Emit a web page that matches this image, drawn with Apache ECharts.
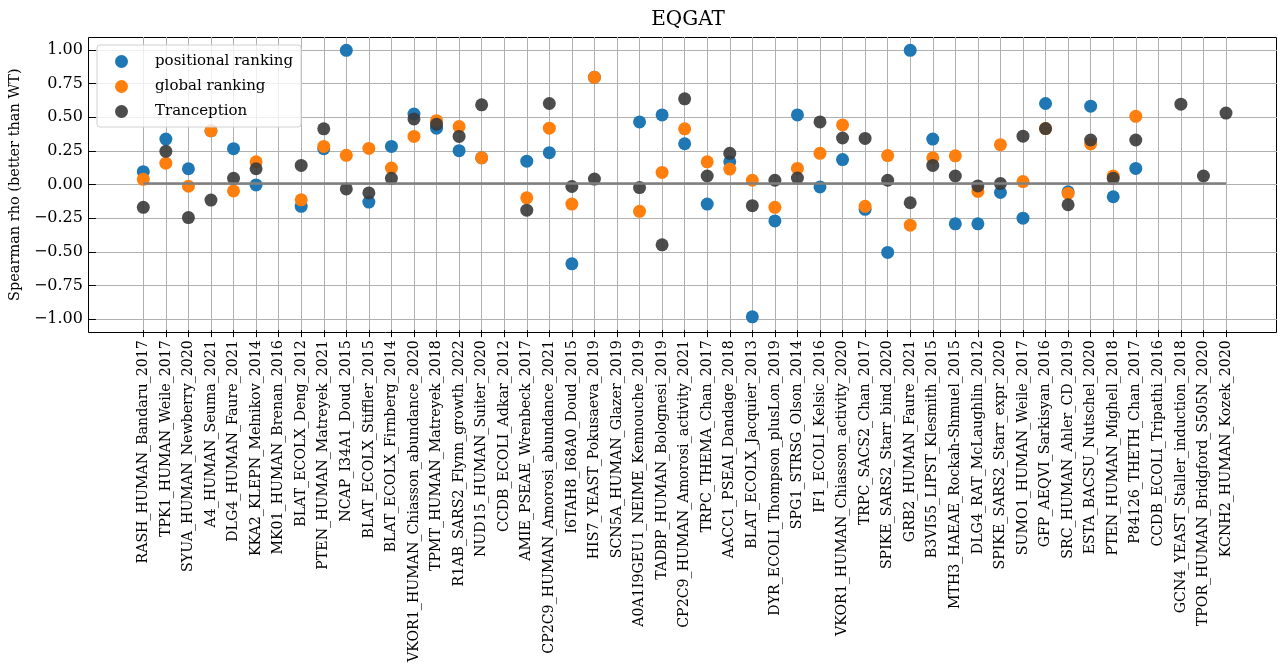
<!DOCTYPE html>
<html>
<head>
<meta charset="utf-8">
<script src="https://cdn.jsdelivr.net/npm/echarts@6/dist/echarts.min.js"></script>
<style>
  html, body { margin: 0; padding: 0; background: #fff; }
  #chart { width: 1278px; height: 665px; }
</style>
</head>
<body>
<div id="chart"></div>
<script>
var categories = [
  'RASH_HUMAN_Bandaru_2017', 'TPK1_HUMAN_Weile_2017', 'SYUA_HUMAN_Newberry_2020', 'A4_HUMAN_Seuma_2021',
  'DLG4_HUMAN_Faure_2021', 'KKA2_KLEPN_Melnikov_2014', 'MK01_HUMAN_Brenan_2016', 'BLAT_ECOLX_Deng_2012',
  'PTEN_HUMAN_Matreyek_2021', 'NCAP_I34A1_Doud_2015', 'BLAT_ECOLX_Stiffler_2015', 'BLAT_ECOLX_Firnberg_2014',
  'VKOR1_HUMAN_Chiasson_abundance_2020', 'TPMT_HUMAN_Matreyek_2018', 'R1AB_SARS2_Flynn_growth_2022',
  'NUD15_HUMAN_Suiter_2020', 'CCDB_ECOLI_Adkar_2012', 'AMIE_PSEAE_Wrenbeck_2017',
  'CP2C9_HUMAN_Amorosi_abundance_2021', 'I6TAH8_I68A0_Doud_2015', 'HIS7_YEAST_Pokusaeva_2019',
  'SCN5A_HUMAN_Glazer_2019', 'A0A1I9GEU1_NEIME_Kennouche_2019', 'TADBP_HUMAN_Bolognesi_2019',
  'CP2C9_HUMAN_Amorosi_activity_2021', 'TRPC_THEMA_Chan_2017', 'AACC1_PSEAI_Dandage_2018',
  'BLAT_ECOLX_Jacquier_2013', 'DYR_ECOLI_Thompson_plusLon_2019', 'SPG1_STRSG_Olson_2014',
  'IF1_ECOLI_Kelsic_2016', 'VKOR1_HUMAN_Chiasson_activity_2020', 'TRPC_SACS2_Chan_2017',
  'SPIKE_SARS2_Starr_bind_2020', 'GRB2_HUMAN_Faure_2021', 'B3VI55_LIPST_Klesmith_2015',
  'MTH3_HAEAE_Rockah-Shmuel_2015', 'DLG4_RAT_McLaughlin_2012', 'SPIKE_SARS2_Starr_expr_2020',
  'SUMO1_HUMAN_Weile_2017', 'GFP_AEQVI_Sarkisyan_2016', 'SRC_HUMAN_Ahler_CD_2019',
  'ESTA_BACSU_Nutschel_2020', 'PTEN_HUMAN_Mighell_2018', 'P84126_THETH_Chan_2017',
  'CCDB_ECOLI_Tripathi_2016', 'GCN4_YEAST_Staller_induction_2018', 'TPOR_HUMAN_Bridgford_S505N_2020',
  'KCNH2_HUMAN_Kozek_2020'
];

var positional = [
  0.089, 0.334, 0.111, 0.396, 0.262, -0.010, null, -0.171, 0.262, 1.000,
  -0.139, 0.279, 0.522, 0.416, 0.247, 0.193, null, 0.168, 0.232, -0.602,
  0.797, null, 0.463, 0.515, 0.299, -0.154, 0.163, -1.000, -0.280, 0.515,
  -0.025, 0.180, -0.193, -0.517, 1.000, 0.334, -0.302, -0.302, -0.067, -0.260,
  0.601, -0.062, 0.581, -0.099, 0.114, null, null, null, null
];

var globalRank = [
  0.032, 0.153, -0.020, 0.396, -0.055, 0.163, null, -0.122, 0.279, 0.212,
  0.264, 0.116, 0.354, 0.472, 0.428, 0.193, null, -0.107, 0.416, -0.154,
  0.797, null, -0.208, 0.084, 0.411, 0.163, 0.109, 0.025, -0.178, 0.114,
  0.227, 0.440, -0.171, 0.210, -0.312, 0.193, 0.208, -0.059, 0.292, 0.015,
  0.413, -0.074, 0.297, 0.057, 0.505, null, null, null, null
];

var tranception = [
  -0.178, 0.242, -0.255, -0.124, 0.039, 0.111, null, 0.136, 0.411, -0.040,
  -0.070, 0.039, 0.485, 0.445, 0.354, 0.591, null, -0.200, 0.601, -0.022,
  0.034, null, -0.030, -0.460, 0.636, 0.057, 0.227, -0.166, 0.025, 0.042,
  0.463, 0.342, 0.339, 0.025, -0.144, 0.136, 0.057, -0.018, 0.000, 0.356,
  0.413, -0.159, 0.327, 0.039, 0.327, null, 0.596, 0.057, 0.529
];

var font = 'DejaVu Serif';

function clean(arr) {
  return arr.map(function (v) { return v === null ? '-' : v; });
}

var chart = echarts.init(document.getElementById('chart'));

var option = {
  animation: false,
  backgroundColor: '#fff',
  textStyle: { fontFamily: font, color: '#000' },
  title: {
    text: 'EQGAT',
    left: 683, top: 5,
    textAlign: 'center',
    textStyle: { fontFamily: font, fontSize: 20, fontWeight: 'normal', color: '#000' }
  },
  legend: {
    orient: 'vertical',
    left: 97, top: 45,
    data: ['positional ranking', 'global ranking', 'Tranception'],
    icon: 'circle',
    itemWidth: 13, itemHeight: 13,
    itemGap: 10,
    padding: [9, 8, 8, 18],
    backgroundColor: 'rgba(255,255,255,0.8)',
    borderColor: '#d0d0d0', borderWidth: 1, borderRadius: 3,
    textStyle: { fontFamily: font, fontSize: 15, color: '#000', padding: [0, 0, 0, 22] }
  },
  grid: [
    // frame
    { left: 88.5, right: 1.5, top: 37.5, height: 295, show: true, borderColor: '#000', borderWidth: 1, backgroundColor: 'transparent' },
    // y ticks grid, -1..1
    { left: 88, right: 1, top: 50, height: 269.3 },
    // category grid
    { left: 143.3, width: 1082.7, top: 37, height: 295 }
  ],
  xAxis: [
    { gridIndex: 0, type: 'value', show: false },
    { gridIndex: 1, type: 'value', show: false },
    {
      gridIndex: 2, type: 'category', data: categories, boundaryGap: false,
      axisLine: { show: false, onZero: false },
      axisTick: { show: true, interval: 0, length: 7, lineStyle: { color: '#000' } },
      axisLabel: { interval: 0, rotate: 90, margin: 10, fontFamily: font, fontSize: 14.2, color: '#000' },
      splitLine: { show: true, interval: 0, lineStyle: { color: '#b0b0b0', width: 1 } }
    }
  ],
  yAxis: [
    { gridIndex: 0, type: 'value', show: false },
    {
      gridIndex: 1, type: 'value', min: -1, max: 1, interval: 0.25,
      name: 'Spearman rho (better than WT)', nameLocation: 'middle', nameGap: 65,
      nameTextStyle: { fontFamily: font, fontSize: 14.5, color: '#000' },
      axisLine: { show: false },
      axisTick: { show: true, length: 7, lineStyle: { color: '#000' } },
      axisLabel: {
        fontFamily: font, fontSize: 16, color: '#000', margin: 13,
        formatter: function (v) { return v.toFixed(2).replace('-', '\u2212'); }
      },
      splitLine: { show: true, lineStyle: { color: '#b0b0b0', width: 1 } }
    },
    { gridIndex: 2, type: 'value', min: -1.1, max: 1.1, show: false }
  ],
  series: [
    {
      name: 'zero', type: 'scatter', xAxisIndex: 2, yAxisIndex: 2, data: [], silent: true,
      markLine: {
        silent: true, symbol: 'none', label: { show: false },
        lineStyle: { color: '#808080', width: 2.5, type: 'solid' },
        emphasis: { disabled: true },
        data: [{ yAxis: 0 }]
      }
    },
    {
      name: 'positional ranking', type: 'scatter', xAxisIndex: 2, yAxisIndex: 2,
      symbolSize: 13, itemStyle: { color: '#1f77b4', opacity: 1 }, data: clean(positional)
    },
    {
      name: 'global ranking', type: 'scatter', xAxisIndex: 2, yAxisIndex: 2,
      symbolSize: 13, itemStyle: { color: '#ff7f0e', opacity: 1 }, data: clean(globalRank)
    },
    {
      name: 'Tranception', type: 'scatter', xAxisIndex: 2, yAxisIndex: 2,
      symbolSize: 13, itemStyle: { color: '#3a3a3a', opacity: 0.9 }, data: clean(tranception)
    }
  ]
};

chart.setOption(option);
window.addEventListener('resize', function () {
  chart.resize();
});
</script>
</body>
</html>
